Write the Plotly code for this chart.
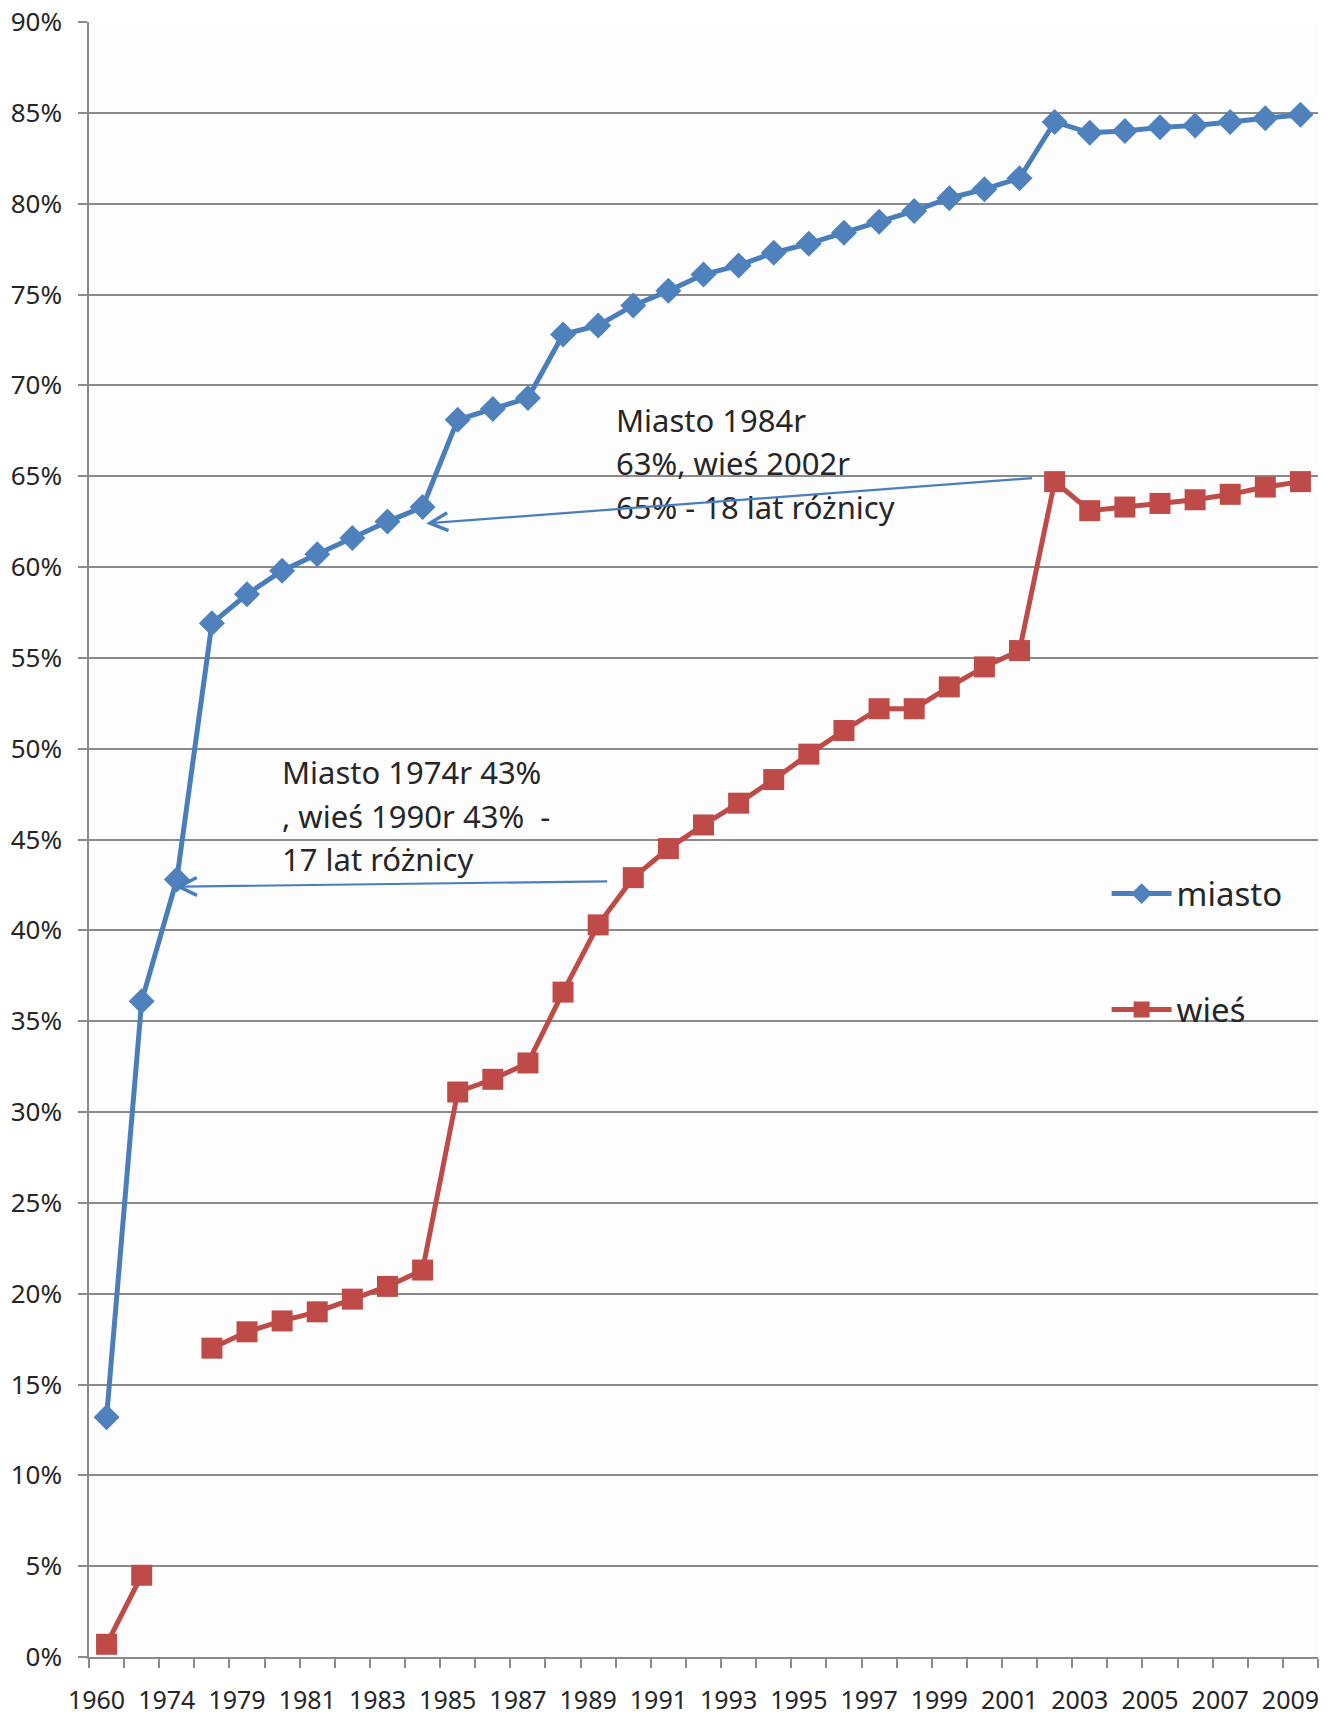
import plotly.graph_objects as go

years = ["1960", "1970", "1974", "1978", "1979", "1980", "1981", "1982", "1983", "1984",
         "1985", "1986", "1987", "1988", "1989", "1990", "1991", "1992", "1993", "1994",
         "1995", "1996", "1997", "1998", "1999", "2000", "2001", "2002", "2003", "2004",
         "2005", "2006", "2007", "2008", "2009"]

miasto = [13.2, 36.1, 42.8, 56.9, 58.5, 59.8, 60.7, 61.6, 62.5, 63.3,
          68.1, 68.7, 69.3, 72.8, 73.3, 74.4, 75.2, 76.1, 76.6, 77.3,
          77.8, 78.4, 79.0, 79.6, 80.3, 80.8, 81.4, 84.5, 83.9, 84.0,
          84.2, 84.3, 84.5, 84.7, 84.9]

wies = [0.7, 4.5, None, 17.0, 17.9, 18.5, 19.0, 19.7, 20.4, 21.3,
        31.1, 31.8, 32.7, 36.6, 40.3, 42.9, 44.5, 45.8, 47.0, 48.3,
        49.7, 51.0, 52.2, 52.2, 53.4, 54.5, 55.4, 64.7, 63.1, 63.3,
        63.5, 63.7, 64.0, 64.4, 64.7]

tick_text = [y if i % 2 == 0 else "" for i, y in enumerate(years)]

note1_lines = ["Miasto 1984r", "63%, wieś 2002r", "65% - 18 lat różnicy"]
note1_y = [68.1, 65.7, 63.3]
note2_lines = ["Miasto 1974r 43%", ", wieś 1990r 43%  -", "17 lat różnicy"]
note2_y = [48.7, 46.3, 43.9]

FONT = "Noto Sans"
BLUE = "#4a7ebb"
RED = "#be4b48"
GRID = "#8a8a8a"
TXT = "#262626"

fig = go.Figure()
fig.add_trace(go.Scatter(
    x=years, y=miasto, name="miasto", mode="lines+markers",
    line=dict(color=BLUE, width=5),
    marker=dict(symbol="diamond", size=20, color="#4f81bd"),
    legendgroup="a", connectgaps=False))
fig.add_trace(go.Scatter(
    x=years, y=wies, name="wieś", mode="lines+markers",
    line=dict(color=RED, width=5),
    marker=dict(symbol="square", size=21, color=RED),
    legendgroup="b", connectgaps=False))

fig.update_layout(
    width=1330, height=1716,
    margin=dict(l=89, r=12, t=22, b=59),
    paper_bgcolor="white", plot_bgcolor="#fdfdfe",
    font=dict(family=FONT, color="#333333"),
    showlegend=True,
    legend=dict(x=0.828, y=0.484, xanchor="left", yanchor="top",
                font=dict(size=33, color=TXT), tracegroupgap=70, itemwidth=60,
                bgcolor="rgba(0,0,0,0)"),
)
fig.update_xaxes(
    type="category", categoryorder="array", categoryarray=years,
    tickmode="array", tickvals=years, ticktext=tick_text, tickangle=0,
    tickson="boundaries", ticks="outside", ticklen=9, tickcolor=GRID, tickwidth=1.5,
    showline=True, linecolor=GRID, linewidth=1.5, showgrid=False,
    tickfont=dict(size=25, color=TXT, family=FONT), automargin=False,
    ticklabelstandoff=20, ticklabelshift=-10, ticklabeloverflow="allow",
    range=[-0.5, 34.5])
fig.update_yaxes(
    range=[0, 90], dtick=5, ticksuffix="%", tickmode="linear", tick0=0,
    showgrid=True, gridcolor=GRID, gridwidth=1.5,
    ticks="outside", ticklen=9, tickcolor=GRID, tickwidth=1.5,
    showline=True, linecolor=GRID, linewidth=1.5, zeroline=False,
    tickfont=dict(size=26, color=TXT, family=FONT), automargin=False,
    ticklabelstandoff=11, ticklabeloverflow="allow")

for txt, yy in zip(note1_lines, note1_y):
    fig.add_annotation(x=14.45, y=yy, xref="x", yref="y", text=txt, showarrow=False,
                       xanchor="left", yanchor="middle", align="left",
                       font=dict(size=31, color=TXT, family=FONT))
for txt, yy in zip(note2_lines, note2_y):
    fig.add_annotation(x=4.95, y=yy, xref="x", yref="y", text=txt, showarrow=False,
                       xanchor="left", yanchor="middle", align="left",
                       font=dict(size=31, color=TXT, family=FONT))
# arrows
fig.add_annotation(x=9.1, y=62.4, ax=26.4, ay=64.9, xref="x", yref="y", axref="x", ayref="y",
                   text="", showarrow=True, arrowhead=5, arrowsize=1.6, arrowwidth=2.2, arrowcolor=BLUE)
fig.add_annotation(x=1.95, y=42.4, ax=14.3, ay=42.7, xref="x", yref="y", axref="x", ayref="y",
                   text="", showarrow=True, arrowhead=5, arrowsize=1.6, arrowwidth=2.2, arrowcolor=BLUE)

# remove the browser's default 8px body margin so the figure fills the window exactly
fig.write_html("out.html", config={"displayModeBar": False},
               post_script="document.body.style.margin='0';document.body.style.overflow='hidden';")
